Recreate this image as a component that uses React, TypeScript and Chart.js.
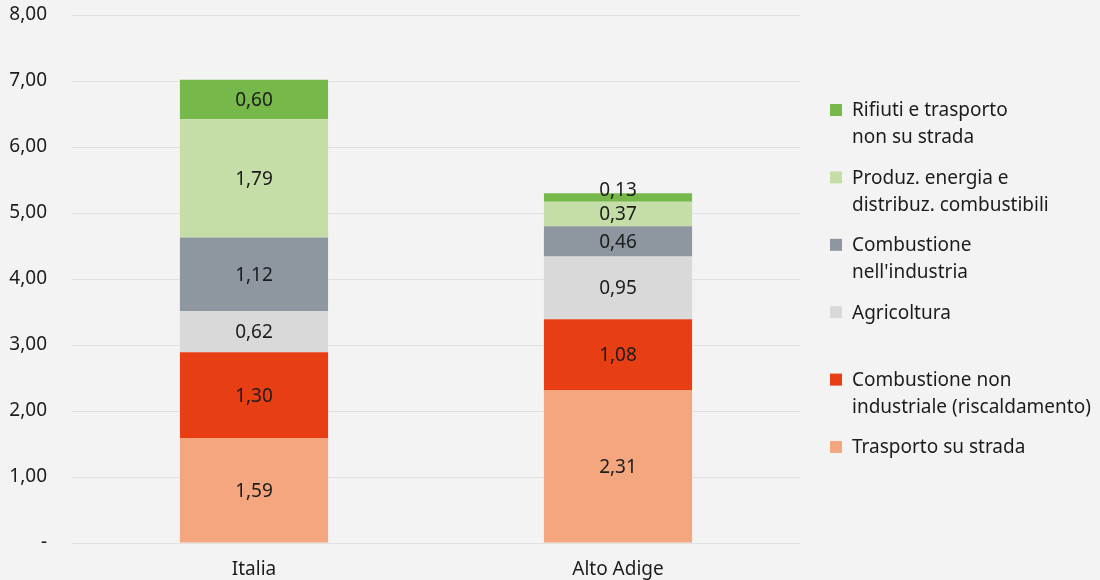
import React, { useEffect, useRef } from "react";
import { Chart, registerables } from "chart.js";

Chart.register(...registerables);

// ---- Data ----
const categories = ["Italia", "Alto Adige"];

// stacked from bottom to top
const trasportoStrada = [1.59, 2.31];
const combustioneNonInd = [1.3, 1.08];
const agricoltura = [0.62, 0.95];
const combustioneInd = [1.12, 0.46];
const produzEnergia = [1.79, 0.37];
const rifiuti = [0.6, 0.13];

const seriesNames = [
  "Trasporto su strada",
  "Combustione non industriale (riscaldamento)",
  "Agricoltura",
  "Combustione nell'industria",
  "Produz. energia e distribuz. combustibili",
  "Rifiuti e trasporto non su strada",
];

// legend (top to bottom), wrapped lines
const legendLines = [
  ["Rifiuti e trasporto", "non su strada"],
  ["Produz. energia e", "distribuz. combustibili"],
  ["Combustione", "nell'industria"],
  ["Agricoltura"],
  ["Combustione non", "industriale (riscaldamento)"],
  ["Trasporto su strada"],
];

const seriesColors = ["#f4a67e", "#e83e14", "#d9d9d9", "#8e979f", "#c5dea7", "#77b84a"];
const legendColors = ["#77b84a", "#c5dea7", "#8e979f", "#d9d9d9", "#e83e14", "#f4a67e"];

const yMin = 0;
const yMax = 8;
const yStep = 1;

const FONT = "'Noto Sans', 'Open Sans', sans-serif";
const TEXT = "#1c1c1c";
const FS = 19;

const fmt = (v: number) => (v === 0 ? "-" : v.toFixed(2).replace(".", ","));

const seriesValues = [
  trasportoStrada,
  combustioneNonInd,
  agricoltura,
  combustioneInd,
  produzEnergia,
  rifiuti,
];

const dataLabelPlugin = {
  id: "dataLabels",
  afterDatasetsDraw(chart: any) {
    const ctx = chart.ctx;
    ctx.save();
    ctx.font = `${FS}px ${FONT}`;
    ctx.fillStyle = TEXT;
    ctx.textAlign = "center";
    ctx.textBaseline = "middle";
    chart.data.datasets.forEach((ds: any, di: number) => {
      const meta = chart.getDatasetMeta(di);
      meta.data.forEach((el: any, i: number) => {
        const v = ds.data[i];
        const top = Math.min(el.y, el.base);
        const h = Math.abs(el.base - el.y);
        let cy = top + h / 2 + 1;
        if (h < 14) cy = top - 3;
        ctx.fillText(fmt(v), el.x, cy);
      });
    });
    ctx.restore();
  },
};

const legendPlugin = {
  id: "customLegend",
  afterDraw(chart: any) {
    const ctx = chart.ctx;
    ctx.save();
    ctx.font = `${FS}px ${FONT}`;
    ctx.textAlign = "left";
    ctx.textBaseline = "middle";
    const x0 = 830;
    const y0 = 110;
    const step = 67.4;
    legendLines.forEach((lines, i) => {
      const cy = y0 + i * step;
      ctx.fillStyle = legendColors[i];
      ctx.fillRect(x0, cy - 6, 12, 12);
      ctx.fillStyle = TEXT;
      lines.forEach((ln, j) => {
        ctx.fillText(ln, x0 + 22, cy + 1 + j * 27);
      });
    });
    ctx.restore();
  },
};

export default function App() {
  const ref = useRef<HTMLCanvasElement>(null);
  useEffect(() => {
    document.body.style.margin = "0";
    document.body.style.background = "#f3f3f3";
    const chart = new Chart(ref.current!, {
      type: "bar",
      data: {
        labels: categories,
        datasets: seriesValues.map((vals, i) => ({
          label: seriesNames[i],
          data: vals,
          backgroundColor: seriesColors[i],
          borderWidth: 0,
          barPercentage: 0.407,
          categoryPercentage: 1,
        })),
      },
      options: {
        responsive: false,
        animation: false,
        devicePixelRatio: 1,
        layout: { padding: { top: 15, right: 300, bottom: 0, left: 0 } },
        plugins: {
          legend: { display: false },
          tooltip: { enabled: false },
        },
        scales: {
          x: {
            stacked: true,
            grid: { display: false, drawTicks: false },
            border: { display: false },
            ticks: { font: { family: FONT, size: FS }, color: TEXT, padding: 15 },
            afterFit: (scale: any) => {
              scale.height = 37;
              scale.paddingLeft = 0;
              scale.paddingRight = 0;
            },
          },
          y: {
            stacked: true,
            min: yMin,
            max: yMax,
            grid: { color: "#e1e1e1", lineWidth: 1, drawTicks: false },
            border: { display: false },
            ticks: {
              stepSize: yStep,
              padding: 25,
              font: { family: FONT, size: FS },
              color: TEXT,
              callback: (v: any) => fmt(Number(v)),
            },
            afterFit: (scale: any) => {
              scale.width = 72;
              scale.paddingTop = 0;
              scale.paddingBottom = 0;
            },
          },
        },
      },
      plugins: [dataLabelPlugin, legendPlugin],
    });
    return () => chart.destroy();
  }, []);
  return (
    <div style={{ position: "absolute", left: 0, top: 0, width: 1100, height: 580, background: "#f3f3f3" }}>
      <canvas ref={ref} width={1100} height={580} />
    </div>
  );
}
